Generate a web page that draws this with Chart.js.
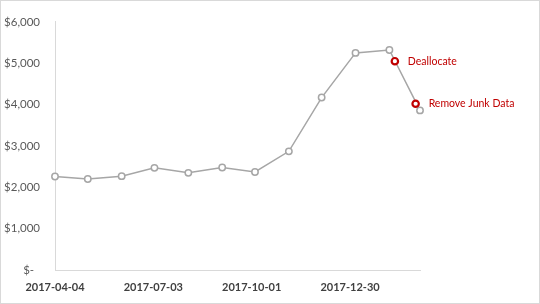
<!DOCTYPE html>
<html>
<head>
<meta charset="utf-8">
<script src="https://cdn.jsdelivr.net/npm/chart.js@4"></script>
<style>
  html, body { margin: 0; padding: 0; background: #fff; }
  #chart { display: block; }
</style>
</head>
<body>
<canvas id="chart" width="540" height="304"></canvas>
<script>
const dates = ["2017-04-04", "2017-05-04", "2017-06-04", "2017-07-04", "2017-08-04", "2017-09-04",
  "2017-10-04", "2017-11-04", "2017-12-04", "2018-01-04", "2018-02-04", "2018-03-04"];
const spend = [2260, 2200, 2270, 2470, 2350, 2480, 2370, 2870, 4170, 5250, 5320, 3860];

const noteDates = ["2018-02-09", "2018-02-28"];
const noteValues = [5050, 4020];
const noteLabels = ["Deallocate", "Remove Junk Data"];

const xTicks = ["2017-04-04", "2017-07-03", "2017-10-01", "2017-12-30"];
const yTicks = [0, 1000, 2000, 3000, 4000, 5000, 6000];

const DAY = 86400000;
const start = Date.parse(dates[0]);
const dayOf = s => (Date.parse(s) - start) / DAY;
const dateOf = d => new Date(start + d * DAY).toISOString().slice(0, 10);

const red = "#C00000";
const grey = "#A6A6A6";

// labels next to the red markers
const noteText = {
  id: "noteText",
  afterDatasetsDraw(chart) {
    const ctx = chart.ctx;
    const meta = chart.getDatasetMeta(1);
    ctx.save();
    ctx.font = "10.5px Lato";
    ctx.fillStyle = red;
    ctx.textBaseline = "middle";
    meta.data.forEach((p, i) => {
      ctx.fillText(noteLabels[i], p.x + 13, p.y);
    });
    ctx.restore();
  }
};

// thin frame round the whole picture
const frame = {
  id: "frame",
  afterDraw(chart) {
    const ctx = chart.ctx;
    ctx.save();
    ctx.strokeStyle = "#D9D9D9";
    ctx.lineWidth = 1;
    ctx.strokeRect(0.5, 0.5, chart.width - 1, chart.height - 1);
    ctx.restore();
  }
};

new Chart(document.getElementById("chart"), {
  type: "line",
  data: {
    datasets: [
      {
        data: dates.map((d, i) => ({ x: dayOf(d), y: spend[i] })),
        borderColor: grey,
        borderWidth: 1.5,
        pointRadius: 3.2,
        pointBackgroundColor: "#fff",
        pointBorderColor: grey,
        pointBorderWidth: 1.5,
        tension: 0,
        clip: false,
        order: 2
      },
      {
        data: noteDates.map((d, i) => ({ x: dayOf(d), y: noteValues[i] })),
        showLine: false,
        pointRadius: 3.2,
        pointBackgroundColor: "#fff",
        pointBorderColor: red,
        pointBorderWidth: 2.2,
        clip: false,
        order: 1
      }
    ]
  },
  options: {
    responsive: false,
    animation: false,
    layout: { padding: { top: 8, right: 120, left: 0, bottom: 0 } },
    plugins: {
      legend: { display: false },
      tooltip: { enabled: false }
    },
    scales: {
      x: {
        type: "linear",
        min: 0,
        max: dayOf(dates[dates.length - 1]),
        grid: { display: false, drawTicks: false },
        border: { display: true, color: "#D9D9D9", width: 1 },
        afterBuildTicks: scale => {
          scale.ticks = xTicks.map(t => ({ value: dayOf(t) }));
        },
        afterFit: scale => { scale.height = 34; },
        ticks: {
          maxRotation: 0,
          autoSkip: false,
          padding: 11,
          color: "#404040",
          font: { family: "Lato", size: 11, weight: "bold" },
          callback: v => dateOf(v)
        }
      },
      y: {
        min: 0,
        max: 6000,
        grid: { display: false, drawTicks: false },
        border: { display: true, color: "#D9D9D9", width: 1 },
        afterBuildTicks: scale => {
          scale.ticks = yTicks.map(v => ({ value: v }));
        },
        afterFit: scale => { scale.width = 55; },
        ticks: {
          padding: 15,
          color: "#595959",
          font: { family: "Lato", size: 11.5 },
          callback: v => v === 0 ? "$-  " : "$" + v.toLocaleString("en-US")
        }
      }
    }
  },
  plugins: [noteText, frame]
});
</script>
</body>
</html>
